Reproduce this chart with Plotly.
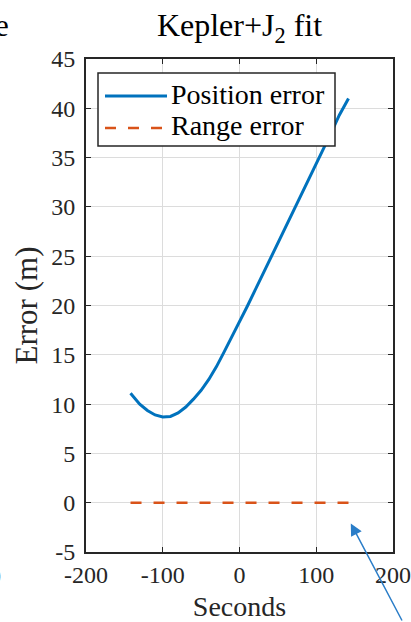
import plotly.graph_objects as go

# Fit residuals over the pass (seconds relative to closest approach)
seconds = [-142, -130, -120, -110, -100, -90, -80, -70, -60, -50, -40, -30, -20, -10,
           0, 10, 20, 30, 40, 50, 60, 70, 80, 90, 100, 110, 120, 130, 142]
position_error = [11.1, 10.0, 9.35, 8.9, 8.7, 8.75, 9.1, 9.7, 10.5, 11.4, 12.5, 13.8,
                  15.3, 16.8, 18.3, 19.9, 21.5, 23.1, 24.7, 26.3, 27.9, 29.5, 31.1,
                  32.7, 34.3, 35.9, 37.6, 39.3, 41.0]
range_error = [0.0, 0.0, 0.0, 0.0, 0.0, 0.0, 0.0, 0.0, 0.0, 0.0, 0.0, 0.0, 0.0, 0.0,
               0.0, 0.0, 0.0, 0.0, 0.0, 0.0, 0.0, 0.0, 0.0, 0.0, 0.0, 0.0, 0.0, 0.0, 0.0]

x_ticks = [-200, -100, 0, 100, 200]
y_ticks = [-5, 0, 5, 10, 15, 20, 25, 30, 35, 40, 45]

FONT = "Liberation Serif"
INK = "#262626"
BLUE = "#0072BD"
ORANGE = "#D95319"
DASH = "11px,12px"
W, H = 411, 622
L, R, T, B = 86, 18, 59, 70
PW, PH = W - L - R, H - T - B


def paper(px, py):
    """Pixel position on the page -> paper coordinates of the plot area."""
    return (px - L) / PW, (H - B - py) / PH


fig = go.Figure()
fig.add_trace(go.Scatter(x=seconds, y=position_error, mode="lines",
                         name="Position error", showlegend=False,
                         line=dict(color=BLUE, width=3)))
fig.add_trace(go.Scatter(x=seconds, y=range_error, mode="lines",
                         name="Range error", showlegend=False,
                         line=dict(color=ORANGE, width=2.5, dash=DASH)))

axis_common = dict(
    showline=True, linecolor=INK, linewidth=2, mirror="ticks",
    ticks="inside", ticklen=5, tickwidth=1.2, tickcolor=INK,
    showgrid=True, gridcolor="#dcdcdc", gridwidth=1,
    zeroline=False, automargin=False,
    tickfont=dict(family=FONT, size=24, color=INK),
)

fig.update_xaxes(range=[-200, 200], tickvals=x_ticks,
                 ticktext=[str(v) for v in x_ticks],
                 title=dict(text="Seconds", font=dict(family=FONT, size=28, color=INK),
                            standoff=10),
                 **axis_common)
fig.update_yaxes(range=[-5, 45], tickvals=y_ticks,
                 ticktext=[str(v) for v in y_ticks],
                 ticklabelstandoff=4,
                 title=dict(text="Error (m)", font=dict(family=FONT, size=31, color=INK),
                            standoff=4),
                 **axis_common)

fig.update_layout(
    width=W, height=H, autosize=False,
    margin=dict(l=L, r=R, t=T, b=B),
    paper_bgcolor="white", plot_bgcolor="white",
    title=dict(text="Kepler+J<sub>2</sub> fit", x=(L + PW / 2) / W, xanchor="center",
               y=1 - 25 / H, yanchor="middle", yref="container",
               font=dict(family=FONT, size=32, color="black")),
    showlegend=False,
)

# Legend box drawn on top of the axes
x0, y0 = paper(98, 73)
x1, y1 = paper(335, 146)
fig.add_shape(type="rect", xref="paper", yref="paper", x0=x0, y0=y1, x1=x1, y1=y0,
              line=dict(color=INK, width=1.5), fillcolor="white", layer="above")
legend_rows = [("Position error", 96, dict(color=BLUE, width=3)),
               ("Range error", 128, dict(color=ORANGE, width=2.5, dash=DASH))]
for label, row_y, style in legend_rows:
    sx0, sy = paper(105, row_y)
    sx1, _ = paper(167, row_y)
    fig.add_shape(type="line", xref="paper", yref="paper", x0=sx0, x1=sx1, y0=sy, y1=sy,
                  line=style, layer="above")
    tx, ty = paper(169, row_y - 2)
    fig.add_annotation(x=tx, y=ty, xref="paper", yref="paper", text=label,
                       showarrow=False, xanchor="left", yanchor="middle",
                       font=dict(family=FONT, size=28, color="black"))

# Callout arrow pointing at the end of the range-error trace
fig.add_annotation(x=145, y=-2.1, xref="x", yref="y", text="", showarrow=True,
                   ax=52, ay=100, axref="pixel", ayref="pixel",
                   arrowhead=2, arrowsize=1.6, arrowwidth=1.5, arrowcolor="#2A7DC8")

# Neighbouring panel fragments at the page edges
ex, ey = paper(11, 25)
fig.add_annotation(x=ex, y=ey, xref="paper", yref="paper", text="e", showarrow=False,
                   xanchor="right", yanchor="middle",
                   font=dict(family=FONT, size=31, color="black"))
zx, zy = paper(3, 576)
fig.add_annotation(x=zx, y=zy, xref="paper", yref="paper", text="0", showarrow=False,
                   xanchor="right", yanchor="middle",
                   font=dict(family=FONT, size=24, color=INK))

fig.write_html("out.html")
